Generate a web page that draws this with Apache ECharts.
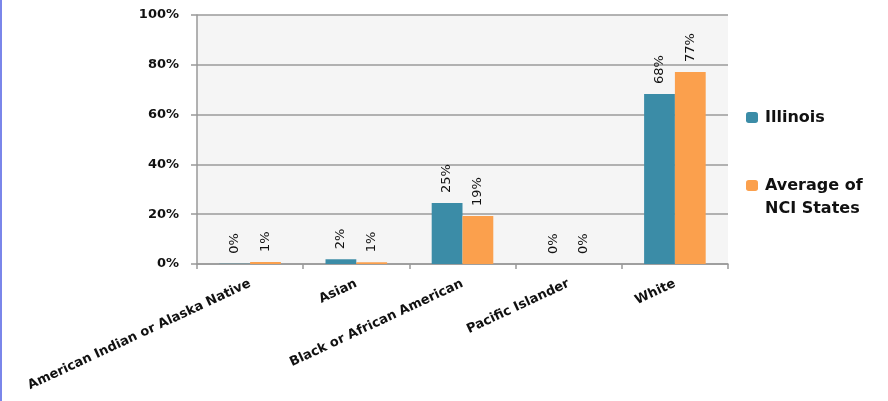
<!DOCTYPE html>
<html><head><meta charset="utf-8">
<script src="https://cdn.jsdelivr.net/npm/echarts@6/dist/echarts.min.js"></script>
<style>html,body{margin:0;padding:0;background:#fff}#c{width:888px;height:401px}</style>
</head><body><div id="c"></div>
<script>
const categories = ['American Indian or Alaska Native','Asian','Black or African American','Pacific Islander','White'];
const illinois = [0.1, 1.9, 24.5, 0, 68.3];
const nciAverage = [0.8, 0.7, 19.3, 0, 77.1];
const yTicks = [0, 20, 40, 60, 80, 100];
const seriesNames = ['Illinois', 'Average of NCI States'];

const chart = echarts.init(document.getElementById('c'));
const font = '"DejaVu Sans", sans-serif';
const lbl = {
  show: true, position: 'top', rotate: 90, align: 'left', verticalAlign: 'middle',
  distance: 10, fontFamily: font, fontSize: 13, color: '#111',
  formatter: p => Math.round(p.value) + '%'
};
const legendText = {fontFamily: font, fontWeight: 'bold', fontSize: 16, color: '#111', lineHeight: 23, padding: [0, 0, 0, 2]};
chart.setOption({
  animation: false,
  graphic: [{type: 'rect', left: 0, top: 0, shape: {width: 2, height: 401}, style: {fill: '#7a86ea'}}],
  grid: {left: 197, right: 160, top: 15, bottom: 137, show: true, backgroundColor: '#f5f5f5', borderWidth: 0},
  legend: {
    orient: 'vertical', left: 746, top: 106, padding: 0, itemWidth: 12, itemHeight: 11, itemGap: 22,
    data: seriesNames,
    formatter: n => n === 'Average of NCI States' ? '{e| }\n{t|Average of}\n{t|NCI States}' : '{t|' + n + '}',
    textStyle: {fontFamily: font, fontWeight: 'bold', fontSize: 16, color: '#111', lineHeight: 23,
      rich: {e: {lineHeight: 23, fontSize: 16}, t: legendText}}
  },
  xAxis: {
    type: 'category', data: categories,
    axisLine: {lineStyle: {color: '#999', width: 1.5}},
    axisTick: {show: true, length: 5, lineStyle: {color: '#999', width: 1.5}},
    axisLabel: {rotate: 25, margin: 19, interval: 0, fontFamily: font, fontWeight: 'bold', fontSize: 13, color: '#111'}
  },
  yAxis: {
    type: 'value', min: 0, max: 100, interval: 20,
    axisLine: {show: true, lineStyle: {color: '#999', width: 1.5}},
    axisTick: {show: true, length: 6, lineStyle: {color: '#999', width: 1.5}},
    splitLine: {lineStyle: {color: '#9a9a9a', width: 1.5}},
    axisLabel: {formatter: v => yTicks.includes(v) ? v + '%' : '', margin: 18, fontFamily: font, fontWeight: 'bold', fontSize: 13, color: '#111'}
  },
  series: [
    {name: seriesNames[0], type: 'bar', data: illinois, barGap: '0%', barCategoryGap: '42%',
     itemStyle: {color: '#3b8ca7'}, label: lbl},
    {name: seriesNames[1], type: 'bar', data: nciAverage,
     itemStyle: {color: '#fba04d'}, label: lbl}
  ]
});
</script></body></html>
